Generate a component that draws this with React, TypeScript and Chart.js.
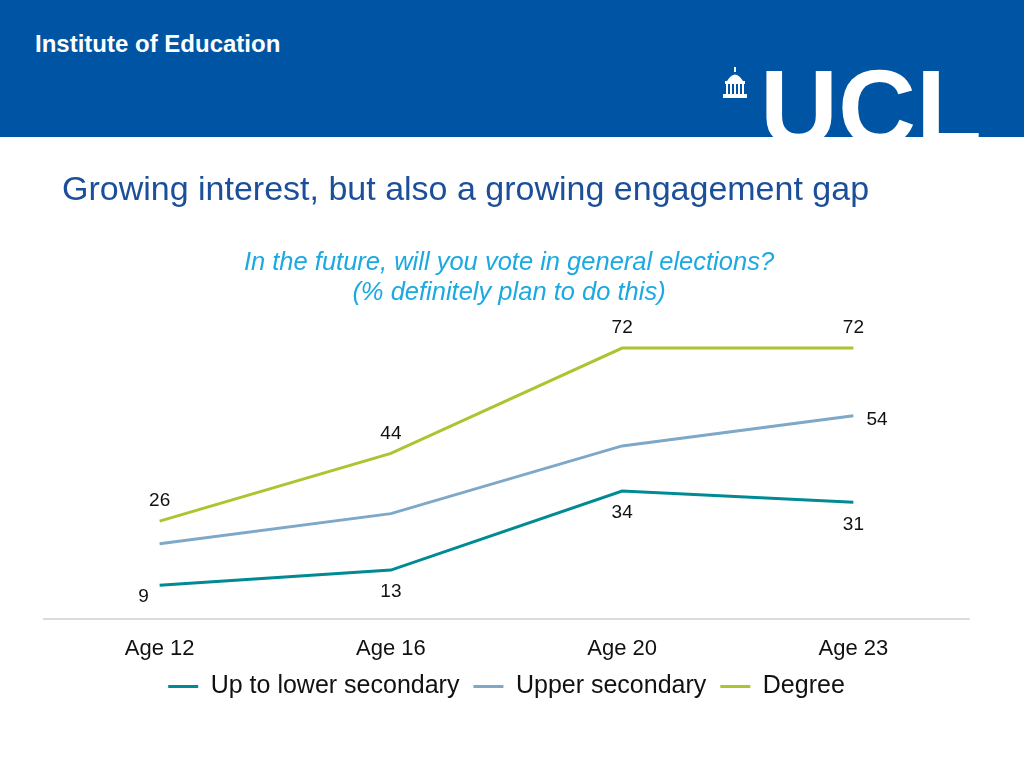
import React, { useEffect, useRef } from "react";
import { Chart, registerables } from "chart.js";

Chart.register(...registerables);

const FONT = '"Liberation Sans", Arial, Helvetica, sans-serif';

const categories = ["Age 12", "Age 16", "Age 20", "Age 23"];
const lowerSecondary = [9, 13, 34, 31];
const upperSecondary = [20, 28, 46, 54];
const degree = [26, 44, 72, 72];
const seriesNames = ["Up to lower secondary", "Upper secondary", "Degree"];
const seriesColors = ["#008A94", "#7EA8C8", "#A9C52F"];

// where each value label sits relative to its point (null = no label)
const labelPlacements = [
  ["left-below", "below", "below", "below"],
  [null, null, null, "right"],
  ["above", "above", "above", "above"],
];

const pointLabelPlugin = {
  id: "pointLabels",
  afterDatasetsDraw(chart: any, _args: any, opts: any) {
    const ctx = chart.ctx;
    ctx.save();
    ctx.font = `${opts.size}px ${FONT}`;
    ctx.fillStyle = opts.color;
    ctx.textBaseline = "middle";
    chart.data.datasets.forEach((ds: any, di: number) => {
      const meta = chart.getDatasetMeta(di);
      const places = opts.placements[di] || [];
      meta.data.forEach((pt: any, i: number) => {
        const place = places[i];
        if (!place) return;
        let x = pt.x;
        let y = pt.y;
        ctx.textAlign = "center";
        if (place === "above") y -= 20;
        else if (place === "below") y += 22;
        else if (place === "right") {
          x += 13;
          y += 4;
          ctx.textAlign = "left";
        } else if (place === "left-below") {
          x -= 16;
          y += 12;
        }
        ctx.fillText(String(ds.data[i]), x, y);
      });
    });
    ctx.restore();
  },
};

export default function App() {
  const canvasRef = useRef<HTMLCanvasElement | null>(null);

  useEffect(() => {
    if (!canvasRef.current) return;
    Chart.defaults.font.family = FONT;
    const chart = new Chart(canvasRef.current, {
      type: "line",
      data: {
        labels: categories,
        datasets: [lowerSecondary, upperSecondary, degree].map((d, i) => ({
          label: seriesNames[i],
          data: d,
          borderColor: seriesColors[i],
          backgroundColor: seriesColors[i],
          borderWidth: 3,
          pointRadius: 0,
          pointHoverRadius: 0,
          tension: 0,
          fill: false,
        })),
      },
      options: {
        responsive: false,
        animation: false,
        layout: { padding: { left: 44, right: 55, top: 318, bottom: 59 } },
        scales: {
          x: {
            offset: true,
            grid: { display: false, drawTicks: false },
            border: { display: true, color: "#DCDCDC", width: 2 },
            ticks: { color: "#111", font: { size: 22 }, padding: 17 },
            afterFit: (scale: any) => {
              scale.height = 41;
            },
          },
          y: { display: false, min: 0, max: 80 },
        },
        plugins: {
          legend: {
            position: "bottom",
            labels: {
              usePointStyle: true,
              pointStyle: "line",
              pointStyleWidth: 30,
              padding: 14,
              color: "#111",
              font: { size: 25 },
            },
          },
          tooltip: { enabled: false },
          pointLabels: {
            size: 19,
            color: "#111",
            placements: labelPlacements,
          },
        } as any,
      },
      plugins: [pointLabelPlugin],
    });
    return () => chart.destroy();
  }, []);

  return (
    <div
      style={{
        position: "absolute",
        left: 0,
        top: 0,
        width: 1024,
        height: 768,
        overflow: "hidden",
        background: "#fff",
        fontFamily: FONT,
      }}
    >
      <canvas
        ref={canvasRef}
        width={1024}
        height={768}
        style={{ position: "absolute", left: 0, top: 0, width: 1024, height: 768, display: "block" }}
      />
      <div
        style={{
          position: "absolute",
          left: 0,
          top: 0,
          width: 1024,
          height: 137,
          background: "#0054A4",
          overflow: "hidden",
        }}
      >
        <div
          style={{
            position: "absolute",
            left: 35,
            top: 30,
            color: "#fff",
            fontWeight: "bold",
            fontSize: 24,
            lineHeight: "28px",
            whiteSpace: "nowrap",
          }}
        >
          Institute of Education
        </div>
        <svg style={{ position: "absolute", left: 720, top: 67 }} width="30" height="32" viewBox="0 0 30 32">
          <rect x="14" y="0" width="2" height="5" fill="#fff" />
          <path d="M7 14 Q15 1 23 14 Z" fill="#fff" />
          <rect x="5" y="14" width="20" height="3" fill="#fff" />
          <rect x="6" y="17" width="2" height="10" fill="#fff" />
          <rect x="10" y="17" width="2" height="10" fill="#fff" />
          <rect x="14" y="17" width="2" height="10" fill="#fff" />
          <rect x="18" y="17" width="2" height="10" fill="#fff" />
          <rect x="22" y="17" width="2" height="10" fill="#fff" />
          <rect x="3" y="27" width="24" height="4" fill="#fff" />
        </svg>
        <div
          style={{
            position: "absolute",
            left: 760,
            top: 54,
            color: "#fff",
            fontWeight: 900,
            fontSize: 108,
            lineHeight: 1,
            whiteSpace: "nowrap",
          }}
        >
          UCL
        </div>
      </div>
      <div
        style={{
          position: "absolute",
          left: 62,
          top: 167,
          color: "#1C4F99",
          fontSize: 34,
          lineHeight: "42px",
          whiteSpace: "nowrap",
        }}
      >
        Growing interest, but also a growing engagement gap
      </div>
      <div
        style={{
          position: "absolute",
          left: 0,
          width: 1018,
          top: 246,
          textAlign: "center",
          color: "#1AA9E0",
          fontSize: 25.5,
          fontStyle: "italic",
          lineHeight: "30px",
        }}
      >
        In the future, will you vote in general elections?
        <br />
        (% definitely plan to do this)
      </div>
    </div>
  );
}
